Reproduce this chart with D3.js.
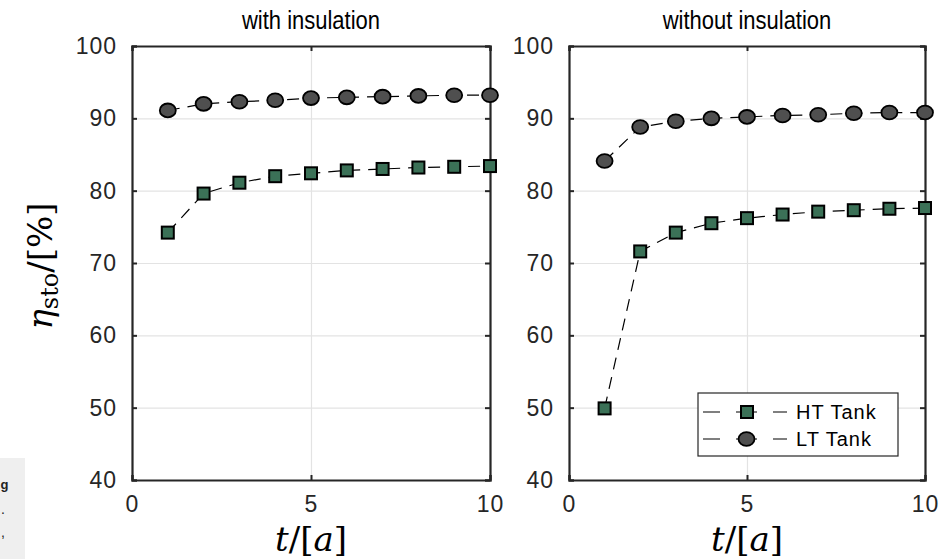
<!DOCTYPE html>
<html>
<head>
<meta charset="utf-8">
<script src="https://cdn.jsdelivr.net/npm/d3@7"></script>
<style>
    body { margin: 0; background: #fff; }
    svg { display: block; font-family: 'Liberation Sans', Arial, sans-serif; }
    .tickText { font-size: 23px; fill: #262626; letter-spacing: 1px; }
    .mathText { font-family: 'DejaVu Serif', 'Liberation Serif', serif; fill: #000; }
</style>
</head>
<body>
<div id="chart"></div>
<script>
// chart data
let years = [1, 2, 3, 4, 5, 6, 7, 8, 9, 10];
let htWithInsulation = [74.2, 79.6, 81.1, 82.0, 82.4, 82.8, 83.0, 83.2, 83.3, 83.4];
let ltWithInsulation = [91.1, 92.0, 92.3, 92.5, 92.8, 92.9, 93.0, 93.1, 93.2, 93.2];
let htWithoutInsulation = [49.9, 71.6, 74.2, 75.5, 76.2, 76.7, 77.1, 77.3, 77.5, 77.6];
let ltWithoutInsulation = [84.1, 88.8, 89.6, 90.0, 90.2, 90.4, 90.5, 90.7, 90.8, 90.8];
let panelTitles = ['with insulation', 'without insulation'];
let yTicks = [40, 50, 60, 70, 80, 90, 100];
let xTicks = [0, 5, 10];
let seriesNames = ['HT Tank', 'LT Tank'];

// svg size
let svgWidth = 949;
let svgHeight = 559;

// panel positions
let panels = [
    { left: 132, right: 490, title: panelTitles[0], ht: htWithInsulation, lt: ltWithInsulation },
    { left: 569, right: 925, title: panelTitles[1], ht: htWithoutInsulation, lt: ltWithoutInsulation }
];
let plotTop = 46;
let plotBottom = 480;

let htColor = '#3b7157';
let ltColor = '#4f4f4f';

let svg = d3.select('#chart').append('svg')
    .attr('width', svgWidth)
    .attr('height', svgHeight);

// leftover caption box at the bottom left corner
svg.append('rect').attr('x', 0).attr('y', 458).attr('width', 25).attr('height', 101).attr('fill', '#efefef');
svg.append('text').attr('x', 0.5).attr('y', 489)
    .attr('font-size', '13px').attr('font-weight', 'bold').attr('fill', '#222').text('g');
svg.append('text').attr('x', 1).attr('y', 514)
    .attr('font-size', '14px').attr('fill', '#222').text('.');
svg.append('text').attr('x', 1).attr('y', 537)
    .attr('font-size', '14px').attr('fill', '#222').text(',');

let yScale = d3.scaleLinear().domain([40, 100]).range([plotBottom, plotTop]);

panels.forEach(function(p) {
    let xScale = d3.scaleLinear().domain([0, 10]).range([p.left, p.right]);
    let w = p.right - p.left;
    let g = svg.append('g');

    // grid lines
    g.append('g')
        .attr('class', 'grid')
        .attr('transform', `translate(${p.left}, 0)`)
        .call(d3.axisLeft(yScale).tickValues([50, 60, 70, 80, 90]).tickSize(-w).tickFormat(''))
        .call(s => s.select('.domain').remove());
    g.append('g')
        .attr('class', 'grid')
        .attr('transform', `translate(0, ${plotBottom})`)
        .call(d3.axisBottom(xScale).tickValues([5]).tickSize(-(plotBottom - plotTop)).tickFormat(''))
        .call(s => s.select('.domain').remove());
    g.selectAll('.grid line').attr('stroke', '#e3e3e3').attr('stroke-width', 1.2);

    // axes with inward ticks
    let leftAxis = g.append('g')
        .attr('class', 'frame')
        .attr('transform', `translate(${p.left}, 0)`)
        .call(d3.axisLeft(yScale).tickValues(yTicks).tickSize(-5).tickPadding(15).tickFormat(d3.format('d')));
    leftAxis.selectAll('text').attr('class', 'tickText').attr('font-family', null).attr('font-size', null).attr('fill', null);

    g.append('g')
        .attr('class', 'frame')
        .attr('transform', `translate(${p.right}, 0)`)
        .call(d3.axisRight(yScale).tickValues(yTicks).tickSize(-5).tickFormat(''));

    let bottomAxis = g.append('g')
        .attr('class', 'frame')
        .attr('transform', `translate(0, ${plotBottom})`)
        .call(d3.axisBottom(xScale).tickValues(xTicks).tickSize(-5).tickPadding(16).tickFormat(d3.format('d')));
    bottomAxis.selectAll('text').attr('class', 'tickText').attr('font-family', null).attr('font-size', null).attr('fill', null);

    g.append('g')
        .attr('class', 'frame')
        .attr('transform', `translate(0, ${plotTop})`)
        .call(d3.axisTop(xScale).tickValues(xTicks).tickSize(-5).tickFormat(''));

    g.selectAll('.frame .domain').attr('stroke', '#262626').attr('stroke-width', 2.2);
    g.selectAll('.frame .tick line').attr('stroke', '#262626').attr('stroke-width', 2);

    // title (slightly condensed like the original)
    svg.append('text')
        .attr('transform', `translate(${(p.left + p.right) / 2}, 29) scale(0.88, 1)`)
        .attr('text-anchor', 'middle')
        .attr('font-size', '25px')
        .attr('fill', '#000')
        .text(p.title);

    // x label
    let xLabel = svg.append('text')
        .attr('class', 'mathText')
        .attr('x', (p.left + p.right) / 2)
        .attr('y', 551)
        .attr('text-anchor', 'middle')
        .attr('font-size', '34px');
    xLabel.append('tspan').attr('font-style', 'italic').text('t');
    xLabel.append('tspan').text('/[');
    xLabel.append('tspan').attr('font-style', 'italic').text('a');
    xLabel.append('tspan').text(']');

    // lines
    let line = d3.line().x((d, i) => xScale(years[i])).y(d => yScale(d));
    [p.ht, p.lt].forEach(function(series) {
        svg.append('path')
            .datum(series)
            .attr('d', line)
            .attr('fill', 'none')
            .attr('stroke', '#000')
            .attr('stroke-width', 1.2)
            .attr('stroke-dasharray', '12,8');
    });

    // HT markers
    svg.selectAll(null)
        .data(p.ht)
        .enter()
        .append('rect')
        .attr('x', (d, i) => xScale(years[i]) - 6)
        .attr('y', d => yScale(d) - 6)
        .attr('width', 12)
        .attr('height', 12)
        .attr('fill', htColor)
        .attr('stroke', '#000')
        .attr('stroke-width', 2);

    // LT markers
    svg.selectAll(null)
        .data(p.lt)
        .enter()
        .append('ellipse')
        .attr('cx', (d, i) => xScale(years[i]))
        .attr('cy', d => yScale(d))
        .attr('rx', 8)
        .attr('ry', 6.9)
        .attr('fill', ltColor)
        .attr('stroke', '#000')
        .attr('stroke-width', 1.8);
});

// y label
let yLabel = svg.append('text')
    .attr('class', 'mathText')
    .attr('transform', `translate(52, 266) rotate(-90)`)
    .attr('text-anchor', 'middle')
    .attr('font-size', '34px');
yLabel.append('tspan').attr('font-style', 'italic').text('η');
yLabel.append('tspan').attr('font-size', '24px').attr('dy', 6).text('sto');
yLabel.append('tspan').attr('dy', -6).text('/[%]');

// legend
let legend = svg.append('g');
legend.append('rect')
    .attr('x', 698).attr('y', 393).attr('width', 200).attr('height', 63)
    .attr('fill', '#fff').attr('stroke', '#262626').attr('stroke-width', 1.2);

let legendRows = [{ name: seriesNames[0], y: 412, color: htColor, shape: 'rect' },
                  { name: seriesNames[1], y: 439, color: ltColor, shape: 'ellipse' }];

legendRows.forEach(function(r) {
    legend.append('line')
        .attr('x1', 703).attr('x2', 787).attr('y1', r.y).attr('y2', r.y)
        .attr('stroke', '#000').attr('stroke-width', 1.2)
        .attr('stroke-dasharray', '17,16,21,16,14');
    if (r.shape === 'rect') {
        legend.append('rect')
            .attr('x', 741).attr('y', r.y - 6).attr('width', 12).attr('height', 12)
            .attr('fill', r.color).attr('stroke', '#000').attr('stroke-width', 2);
    } else {
        legend.append('ellipse')
            .attr('cx', 746.5).attr('cy', r.y).attr('rx', 8).attr('ry', 6.9)
            .attr('fill', r.color).attr('stroke', '#000').attr('stroke-width', 1.8);
    }
    legend.append('text')
        .attr('x', 796).attr('y', r.y + 7)
        .attr('font-size', '20px').attr('letter-spacing', '1px').attr('fill', '#000')
        .text(r.name);
});
</script>
</body>
</html>
